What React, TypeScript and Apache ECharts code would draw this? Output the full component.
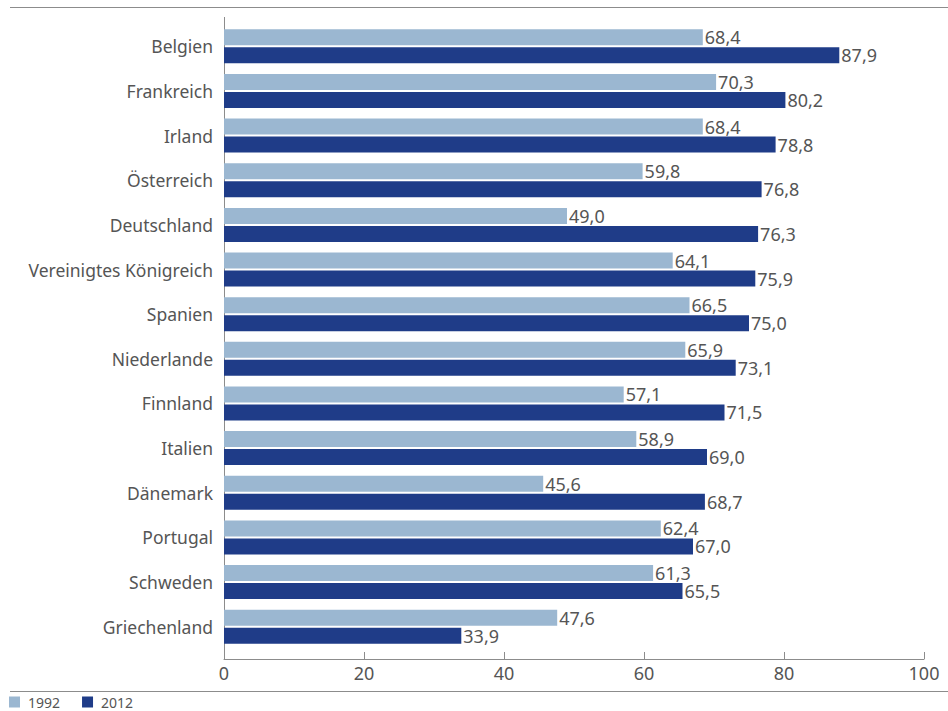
import React, { useEffect, useRef } from "react";
import * as echarts from "echarts";

const categories = [
  "Belgien",
  "Frankreich",
  "Irland",
  "Österreich",
  "Deutschland",
  "Vereinigtes Königreich",
  "Spanien",
  "Niederlande",
  "Finnland",
  "Italien",
  "Dänemark",
  "Portugal",
  "Schweden",
  "Griechenland",
];
const values1992 = [68.4, 70.3, 68.4, 59.8, 49.0, 64.1, 66.5, 65.9, 57.1, 58.9, 45.6, 62.4, 61.3, 47.6];
const values2012 = [87.9, 80.2, 78.8, 76.8, 76.3, 75.9, 75.0, 73.1, 71.5, 69.0, 68.7, 67.0, 65.5, 33.9];
const seriesNames = ["1992", "2012"];
const xTicks = { min: 0, max: 100, interval: 20 };

const FONT = "Noto Sans";
const TEXT = "#555555";
const AXIS = "#8c8c8c";
const LIGHT = "#9bb7d1";
const DARK = "#1f3c88";

const fmt = (v: number) => v.toFixed(1).replace(".", ",");

export default function App() {
  const ref = useRef<HTMLDivElement>(null);
  useEffect(() => {
    if (!ref.current) return;
    const chart = echarts.init(ref.current, undefined, { renderer: "svg" });
    const labelCfg = {
      show: true,
      position: "right",
      distance: 2,
      color: TEXT,
      fontFamily: FONT,
      fontSize: 18,
      formatter: (p: any) => fmt(p.value),
    };
    chart.setOption({
      animation: false,
      backgroundColor: "#ffffff",
      textStyle: { fontFamily: FONT },
      grid: { left: 224, right: 24, top: 24, bottom: 62, containLabel: false },
      legend: {
        left: 9,
        top: 695,
        icon: "rect",
        itemWidth: 11,
        itemHeight: 11,
        itemGap: 22,
        padding: 0,
        textStyle: { color: TEXT, fontSize: 14, lineHeight: 14, fontFamily: FONT, padding: [0, 0, 0, 3] },
        data: seriesNames,
      },
      xAxis: {
        type: "value",
        min: xTicks.min,
        max: xTicks.max,
        interval: xTicks.interval,
        offset: 10,
        axisLine: { show: true, lineStyle: { color: AXIS, width: 1 } },
        axisTick: { show: true, inside: true, length: 7, lineStyle: { color: AXIS } },
        axisLabel: { color: TEXT, fontSize: 18, fontFamily: FONT, margin: 5 },
        splitLine: { show: false },
      },
      yAxis: {
        type: "category",
        inverse: true,
        data: categories,
        axisLine: { show: false },
        axisTick: { show: false },
        axisLabel: { color: TEXT, fontSize: 17.5, fontFamily: FONT, margin: 11 },
      },
      graphic: [
        { type: "line", shape: { x1: 10, y1: 7.5, x2: 948, y2: 7.5 }, style: { stroke: AXIS, lineWidth: 1 } },
        { type: "line", shape: { x1: 10, y1: 691.5, x2: 948, y2: 691.5 }, style: { stroke: AXIS, lineWidth: 1 } },
        { type: "line", shape: { x1: 224.5, y1: 17, x2: 224.5, y2: 659 }, style: { stroke: AXIS, lineWidth: 1 } },
      ],
      series: [
        {
          name: seriesNames[0],
          type: "bar",
          data: values1992,
          barWidth: 16,
          barGap: "12.5%",
          itemStyle: { color: LIGHT },
          label: labelCfg,
        },
        {
          name: seriesNames[1],
          type: "bar",
          data: values2012,
          barWidth: 16,
          barGap: "12.5%",
          itemStyle: { color: DARK },
          label: labelCfg,
        },
      ],
    });
    return () => chart.dispose();
  }, []);
  return <div ref={ref} style={{ width: 948, height: 711, position: "absolute", left: 0, top: 0 }} />;
}
